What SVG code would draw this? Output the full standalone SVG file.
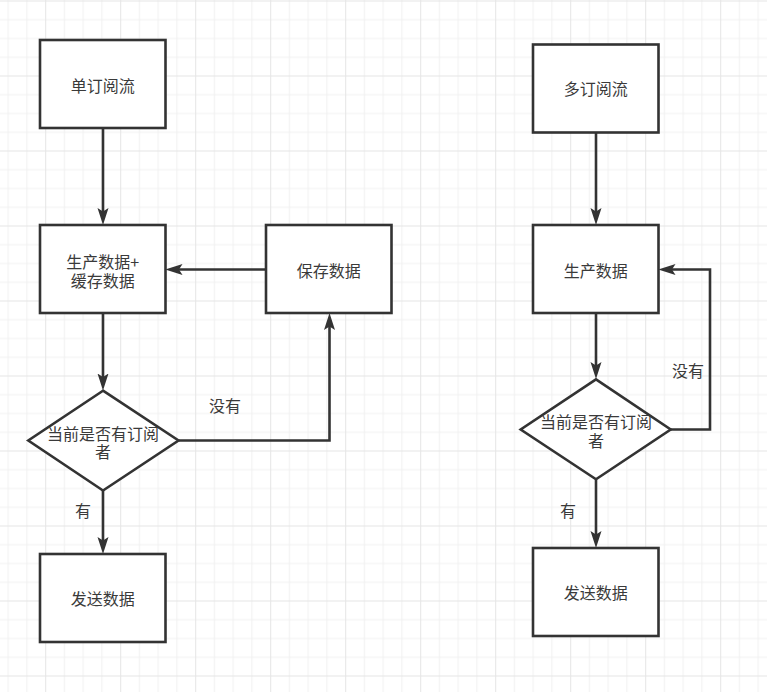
<svg xmlns="http://www.w3.org/2000/svg" width="767" height="692" viewBox="0 0 767 692">
<defs>
<pattern id="grid" patternUnits="userSpaceOnUse" x="45.2" y="0.5" width="75" height="75">
<rect x="0" y="0" width="75" height="75" fill="#ffffff"/>
<g fill="#f1f1f1">
<rect x="18.75" y="0" width="1" height="75"/>
<rect x="37.5" y="0" width="1" height="75"/>
<rect x="56.25" y="0" width="1" height="75"/>
<rect x="0" y="18.75" width="75" height="1"/>
<rect x="0" y="37.5" width="75" height="1"/>
<rect x="0" y="56.25" width="75" height="1"/>
</g>
<g fill="#e5e5e5">
<rect x="0" y="0" width="1" height="75"/>
<rect x="0" y="0" width="75" height="1"/>
</g>
</pattern>
<marker id="arrow" viewBox="0 -6 17 12" refX="9" refY="0" markerWidth="17" markerHeight="12" markerUnits="userSpaceOnUse" orient="auto">
<path d="M0,-5.5 L17,0 L0,5.5 L3.5,0 Z" fill="#333333"/>
</marker>
<style>
.box{fill:#ffffff;stroke:#333333;stroke-width:2.6}
.edge{fill:none;stroke:#333333;stroke-width:2.6;marker-end:url(#arrow)}
.t{font-family:"Noto Sans CJK SC","Noto Sans",sans-serif;font-size:16px;fill:#3a3a3a;text-anchor:middle;dominant-baseline:central}
.lbl{font-family:"Noto Sans CJK SC","Noto Sans",sans-serif;font-size:16px;fill:#3a3a3a;text-anchor:middle;dominant-baseline:central}
</style>
</defs>
<rect x="0" y="0" width="767" height="692" fill="url(#grid)"/>

<g id="connectors">
<path class="edge" d="M103,128 V217"/>
<path class="edge" d="M266,269.5 H173.5"/>
<path class="edge" d="M103,313 V382.5"/>
<path class="edge" d="M179,440.5 H329.5 V321"/>
<path class="edge" d="M103,490.5 V546"/>
<path class="edge" d="M596,132 V217"/>
<path class="edge" d="M596,313 V371"/>
<path class="edge" d="M671,429.5 H710 V269.5 H666.5"/>
<path class="edge" d="M596,479.5 V540"/>
</g>

<g id="labels">
<text class="lbl" x="225" y="405">没有</text>
<text class="lbl" x="83" y="510">有</text>
<text class="lbl" x="688" y="370">没有</text>
<text class="lbl" x="568" y="510">有</text>
</g>

<g id="n1">
<rect class="box" x="40" y="40" width="125.5" height="88"/>
<text class="t" x="102.8" y="84.5">单订阅流</text>
</g>
<g id="n2">
<rect class="box" x="40" y="225" width="125.5" height="88"/>
<text class="t" x="102.8" y="260.5">生产数据+<tspan x="102.8" dy="19.5">缓存数据</tspan></text>
</g>
<g id="n3">
<rect class="box" x="266" y="225" width="125.5" height="88"/>
<text class="t" x="328.8" y="270">保存数据</text>
</g>
<g id="n4">
<polygon class="box" points="103,390.7 178.5,440.5 103,490.5 28.3,440.5"/>
<text class="t" x="103" y="432.5">当前是否有订阅<tspan x="103" dy="18.5">者</tspan></text>
</g>
<g id="n5">
<rect class="box" x="40" y="554" width="125.5" height="88"/>
<text class="t" x="102.8" y="598">发送数据</text>
</g>

<g id="m1">
<rect class="box" x="533" y="44.5" width="125.5" height="88"/>
<text class="t" x="595.8" y="88.3">多订阅流</text>
</g>
<g id="m2">
<rect class="box" x="533" y="225" width="125.5" height="88"/>
<text class="t" x="595.8" y="270">生产数据</text>
</g>
<g id="m3">
<polygon class="box" points="596,379.3 670.7,429.5 596,479.3 520.7,429.5"/>
<text class="t" x="596" y="421">当前是否有订阅<tspan x="596" dy="19">者</tspan></text>
</g>
<g id="m4">
<rect class="box" x="533" y="548" width="125.5" height="88"/>
<text class="t" x="595.8" y="592">发送数据</text>
</g>
</svg>
